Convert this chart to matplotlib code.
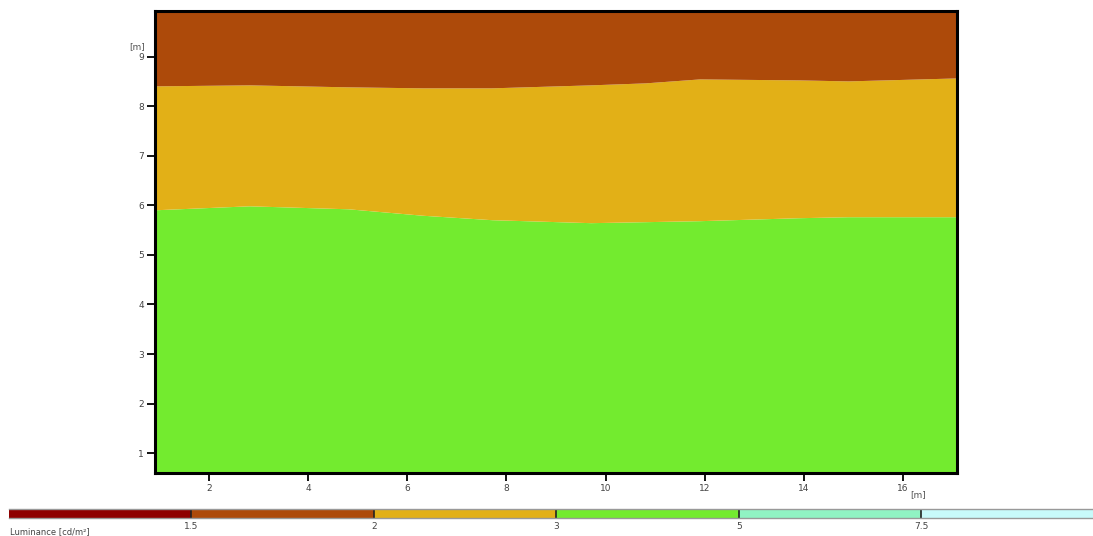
import matplotlib.pyplot as plt
import numpy as np

# isoline boundaries of the luminance field [m]
x_pts = [0.9, 2.8, 4.8, 6.3, 7.7, 9.7, 10.8, 11.9, 13.9, 14.9, 17.1]
upper_iso = [8.41, 8.43, 8.39, 8.37, 8.37, 8.43, 8.47, 8.55, 8.53, 8.51, 8.57]
lower_iso = [5.91, 5.99, 5.93, 5.80, 5.71, 5.65, 5.67, 5.69, 5.75, 5.77, 5.77]

x_ticks = [2, 4, 6, 8, 10, 12, 14, 16]
y_ticks = [1, 2, 3, 4, 5, 6, 7, 8, 9]

# legend classes
level_labels = ['1.5', '2', '3', '5', '7.5']
level_colors = ['#8e0000', '#ad4a0a', '#e2b017', '#73eb2f', '#90f3c3', '#c8fafa']

fig = plt.figure(figsize=(10.93, 5.36), dpi=100)
W, H = 1093, 536

ax = fig.add_axes([155 / W, 1 - 473 / H, (957 - 155) / W, (473 - 11) / H])
xmin, xmax, ymin, ymax = 0.9, 17.1, 0.6, 9.92
ax.fill_between(x_pts, ymin, lower_iso, color=level_colors[3], lw=0)
ax.fill_between(x_pts, lower_iso, upper_iso, color=level_colors[2], lw=0)
ax.fill_between(x_pts, upper_iso, ymax, color=level_colors[1], lw=0)
ax.set_xlim(xmin, xmax)
ax.set_ylim(ymin, ymax)
for s in ax.spines.values():
    s.set_linewidth(2.2)
ax.set_xticks(x_ticks)
ax.set_yticks(y_ticks)
ax.tick_params(direction='out', length=6, width=1.3, labelsize=6.5,
               labelcolor='#444444', pad=2)
ax.text(-0.012, 9.12, '[m]', transform=ax.get_yaxis_transform(),
        fontsize=6.5, color='#555555', ha='right', va='bottom')
ax.text(16.15, ymin - 0.35, '[m]', fontsize=6.5, color='#555555',
        ha='left', va='top', clip_on=False)

# colour legend bar
cax = fig.add_axes([9 / W, 1 - 518 / H, (W - 9) / W, 9 / H])
n = len(level_colors)
cax.barh(0, [1] * n, left=np.arange(n), height=1, color=level_colors,
         edgecolor='none')
for i in range(1, n):
    cax.axvline(i, color='#222222', lw=1.2)
cax.set_xlim(0, n - 0.06)
cax.set_ylim(-0.5, 0.5)
for side, s in cax.spines.items():
    s.set_visible(side in ('top', 'bottom'))
    s.set_color('#999999')
    s.set_linewidth(1.0)
cax.set_yticks([])
cax.set_xticks(range(1, n))
cax.set_xticklabels(level_labels)
cax.tick_params(length=0, labelsize=6.5, labelcolor='#444444', pad=3)
fig.text(10 / W, 1 - 532 / H, 'Luminance [cd/m²]', fontsize=6,
         color='#444444', ha='left', va='center')

fig.savefig('out.png', dpi=100)
